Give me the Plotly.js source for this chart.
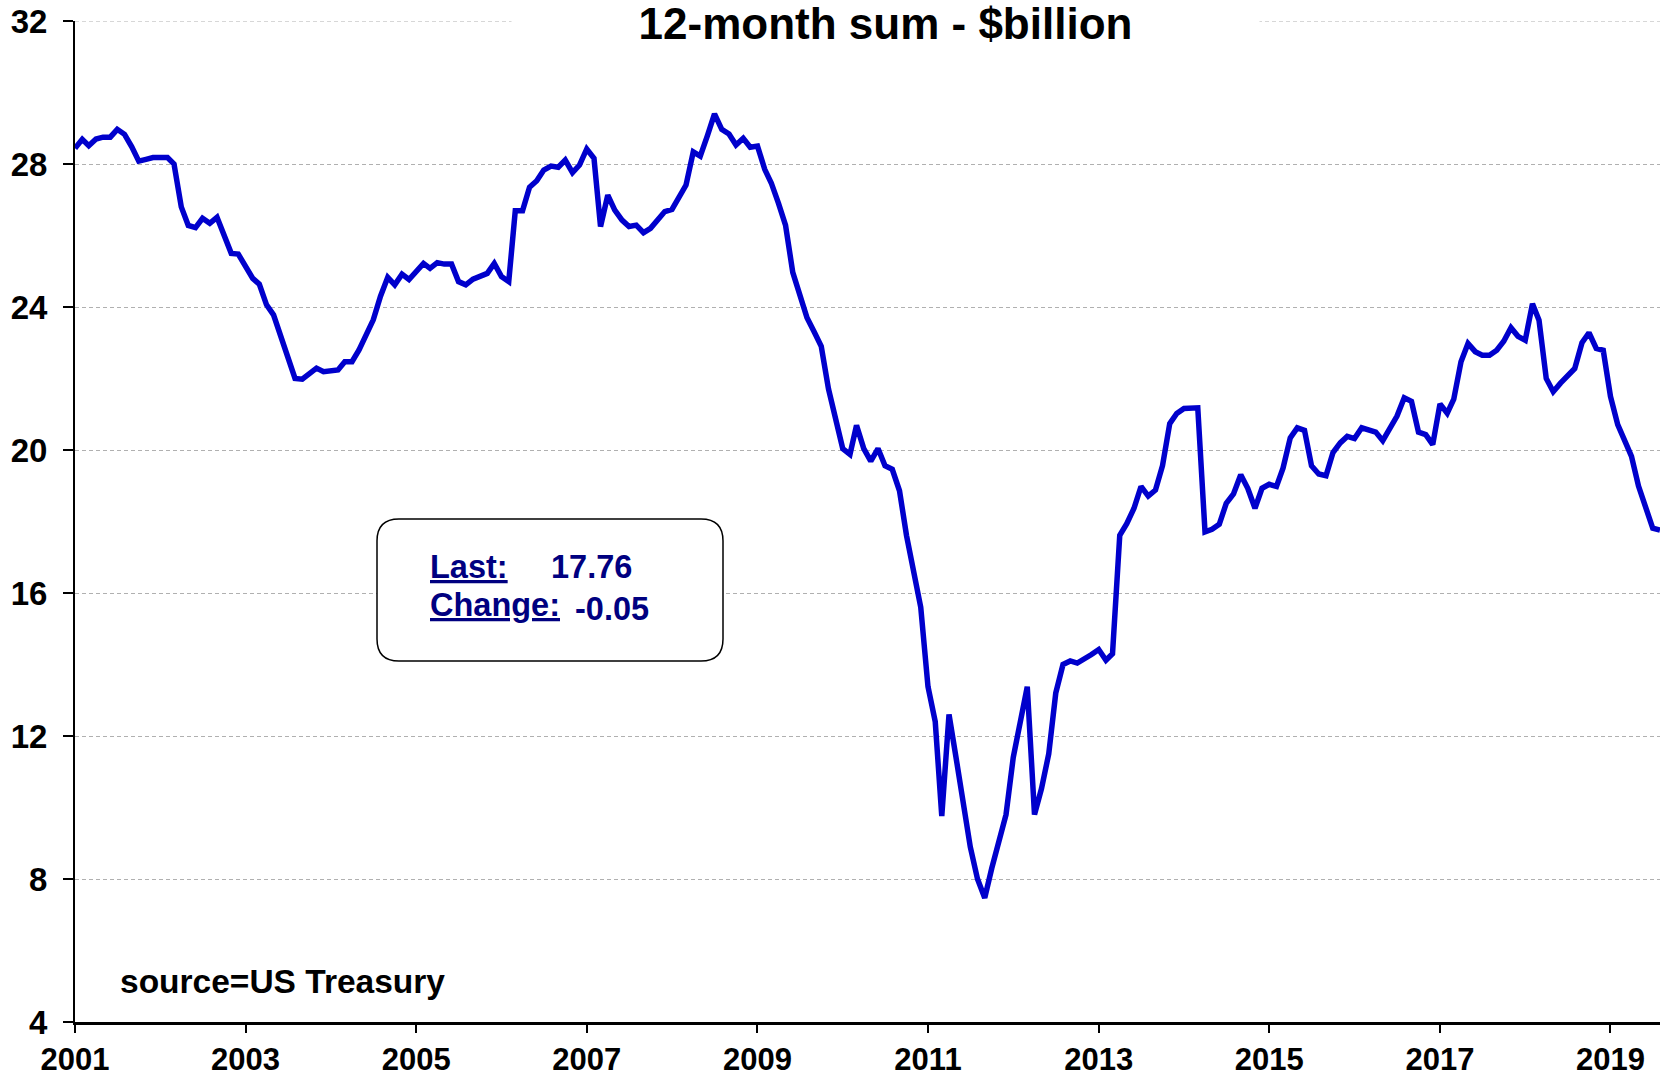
<!DOCTYPE html>
<html>
<head>
<meta charset="utf-8">
<script src="https://cdn.plot.ly/plotly-3.0.1.min.js"></script>
<style>html,body{margin:0;padding:0;background:#fff;}#chart{width:1665px;height:1076px;}</style>
</head>
<body>
<div id="chart"></div>
<script>
// 12-month sum, $billion, monthly values by year
const y2001 = [28.44, 28.69, 28.51, 28.70, 28.75, 28.75, 28.97, 28.83, 28.48, 28.08, 28.13, 28.18];
const y2002 = [28.18, 28.18, 28.00, 26.80, 26.28, 26.22, 26.48, 26.34, 26.51, 26.00, 25.50, 25.48];
const y2003 = [25.14, 24.80, 24.64, 24.06, 23.78, 23.20, 22.60, 22.00, 21.98, 22.15, 22.29, 22.19];
const y2004 = [22.22, 22.24, 22.47, 22.47, 22.80, 23.20, 23.64, 24.30, 24.83, 24.62, 24.92, 24.77];
const y2005 = [25.00, 25.22, 25.08, 25.24, 25.20, 25.20, 24.71, 24.62, 24.78, 24.86, 24.94, 25.22];
const y2006 = [24.85, 24.71, 26.69, 26.69, 27.35, 27.53, 27.83, 27.94, 27.91, 28.11, 27.76, 27.97];
const y2007 = [28.42, 28.16, 26.25, 27.13, 26.71, 26.43, 26.25, 26.29, 26.08, 26.20, 26.45, 26.67];
const y2008 = [26.73, 27.10, 27.41, 28.34, 28.22, 28.80, 29.40, 28.97, 28.84, 28.53, 28.72, 28.47];
const y2009 = [28.50, 27.85, 27.47, 26.90, 26.29, 24.97, 24.28, 23.70, 23.30, 22.90, 21.71, 20.81];
const y2010 = [20.04, 19.88, 20.69, 20.04, 19.69, 20.04, 19.56, 19.46, 18.86, 17.61, 16.64, 15.60];
const y2011 = [13.38, 12.40, 9.76, 12.60, 11.40, 10.10, 8.90, 8.00, 7.47, 8.30, 9.10, 9.80];
const y2012 = [11.40, 12.50, 13.38, 9.80, 10.53, 11.50, 13.20, 14.00, 14.10, 14.04, 14.15, 14.28];
const y2013 = [14.42, 14.12, 14.30, 17.61, 17.94, 18.37, 18.98, 18.71, 18.88, 19.56, 20.74, 21.02];
const y2014 = [21.16, 21.17, 21.18, 17.71, 17.78, 17.92, 18.51, 18.77, 19.31, 18.93, 18.37, 18.93];
const y2015 = [19.04, 18.98, 19.49, 20.34, 20.62, 20.55, 19.56, 19.33, 19.28, 19.93, 20.20, 20.38];
const y2016 = [20.32, 20.62, 20.55, 20.50, 20.26, 20.62, 20.95, 21.46, 21.36, 20.50, 20.43, 20.15];
const y2017 = [21.29, 21.03, 21.42, 22.47, 22.98, 22.75, 22.65, 22.65, 22.79, 23.04, 23.42, 23.18];
const y2018 = [23.07, 24.09, 23.63, 22.00, 21.63, 21.87, 22.10, 22.28, 23.00, 23.28, 22.84, 22.79];
const y2019 = [21.50, 20.71, 20.29, 19.82, 18.99, 18.43, 17.81, 17.76];

const years = [2001,2002,2003,2004,2005,2006,2007,2008,2009,2010,2011,2012,2013,2014,2015,2016,2017,2018,2019];
const yearSeries = [y2001,y2002,y2003,y2004,y2005,y2006,y2007,y2008,y2009,y2010,y2011,y2012,y2013,y2014,y2015,y2016,y2017,y2018,y2019];

const xTickLabels = ['2001','2003','2005','2007','2009','2011','2013','2015','2017','2019'];
const yTickVals = [4, 8, 12, 16, 20, 24, 28, 32];

const titleText = '12-month sum - $billion';
const sourceText = 'source=US Treasury';
const lastValue = '17.76';
const changeValue = '-0.05';

// build date/value lists
const xs = [], ys = [];
yearSeries.forEach((arr, i) => {
  arr.forEach((v, j) => {
    xs.push(years[i] + '-' + String(j + 1).padStart(2, '0') + '-01');
    ys.push(v);
  });
});

const FONT = 'Liberation Sans, Arial, Helvetica, sans-serif';

// plot area in px: x 75..1660, y 21..1022
const PW = 1585, PH = 1001;
function px2x(p){ return (p - 75) / PW; }
function px2y(p){ return (1022 - p) / PH; }

// rounded box
const bL = px2x(377), bR = px2x(723), bT = px2y(519), bB = px2y(661);
const rx = 22 / PW, ry = 22 / PH;
const boxPath = `M ${bL+rx},${bT} L ${bR-rx},${bT} Q ${bR},${bT} ${bR},${bT-ry} L ${bR},${bB+ry} Q ${bR},${bB} ${bR-rx},${bB} L ${bL+rx},${bB} Q ${bL},${bB} ${bL},${bB+ry} L ${bL},${bT-ry} Q ${bL},${bT} ${bL+rx},${bT} Z`;

const trace = {
  x: xs, y: ys, type: 'scatter', mode: 'lines',
  line: {color: '#0000CC', width: 5.5},
  hoverinfo: 'skip'
};

const navy = '#000080';

const layout = {
  width: 1665, height: 1076,
  margin: {l: 75, r: 5, t: 21, b: 54},
  paper_bgcolor: '#ffffff', plot_bgcolor: '#ffffff',
  showlegend: false,
  font: {family: FONT, color: '#000'},
  xaxis: {
    type: 'date',
    range: ['2001-01-01', '2019-08-01'],
    tickmode: 'array',
    tickvals: xTickLabels.map(y => y + '-01-01'),
    ticktext: xTickLabels,
    ticks: 'outside', ticklen: 8, tickwidth: 2, tickcolor: '#000',
    showline: true, linecolor: '#000', linewidth: 3,
    showgrid: false, zeroline: false,
    tickfont: {family: FONT, size: 31, color: '#000', weight: 700},
    ticklabelstandoff: 0
  },
  yaxis: {
    range: [4, 32],
    tickmode: 'array',
    tickvals: yTickVals,
    ticktext: yTickVals.map(String),
    ticks: 'outside', ticklen: 10, tickwidth: 2, tickcolor: '#000',
    showline: true, linecolor: '#000', linewidth: 2,
    showgrid: true, gridcolor: '#b0b0b0', gridwidth: 1, griddash: '4px,3px',
    zeroline: false,
    tickfont: {family: FONT, size: 33, color: '#000', weight: 700},
    ticklabelstandoff: 9
  },
  shapes: [
    {type: 'line', xref: 'paper', yref: 'y', x0: 0, x1: 1, y0: 32, y1: 32,
     line: {color: '#b0b0b0', width: 1, dash: '4px,3px'}, layer: 'below'},
    {type: 'path', xref: 'paper', yref: 'paper', path: boxPath,
     fillcolor: '#ffffff', line: {color: '#000', width: 1.5}, layer: 'above'}
  ],
  annotations: [
    {text: '<b>' + titleText + '</b>', xref: 'paper', yref: 'paper',
     x: px2x(885), y: px2y(23), xanchor: 'center', yanchor: 'middle',
     showarrow: false, bgcolor: '#ffffff', width: 743, borderpad: 2,
     font: {family: FONT, size: 44, color: '#000'}},
    {text: '<b>' + sourceText + '</b>', xref: 'paper', yref: 'paper',
     x: px2x(118), y: px2y(981), xanchor: 'left', yanchor: 'middle',
     showarrow: false, font: {family: FONT, size: 33.5, color: '#000'}},
    {text: '<b><u>Last:</u></b>', xref: 'paper', yref: 'paper',
     x: px2x(428), y: px2y(567), xanchor: 'left', yanchor: 'middle',
     showarrow: false, font: {family: FONT, size: 32.5, color: navy}},
    {text: '<b>' + lastValue + '</b>', xref: 'paper', yref: 'paper',
     x: px2x(549), y: px2y(567), xanchor: 'left', yanchor: 'middle',
     showarrow: false, font: {family: FONT, size: 32.5, color: navy}},
    {text: '<b><u>Change:</u></b>', xref: 'paper', yref: 'paper',
     x: px2x(428), y: px2y(605), xanchor: 'left', yanchor: 'middle',
     showarrow: false, font: {family: FONT, size: 32.5, color: navy}},
    {text: '<b>' + changeValue + '</b>', xref: 'paper', yref: 'paper',
     x: px2x(573), y: px2y(609), xanchor: 'left', yanchor: 'middle',
     showarrow: false, font: {family: FONT, size: 32.5, color: navy}}
  ]
};

Plotly.newPlot('chart', [trace], layout, {displayModeBar: false, staticPlot: true});
</script>
</body>
</html>
